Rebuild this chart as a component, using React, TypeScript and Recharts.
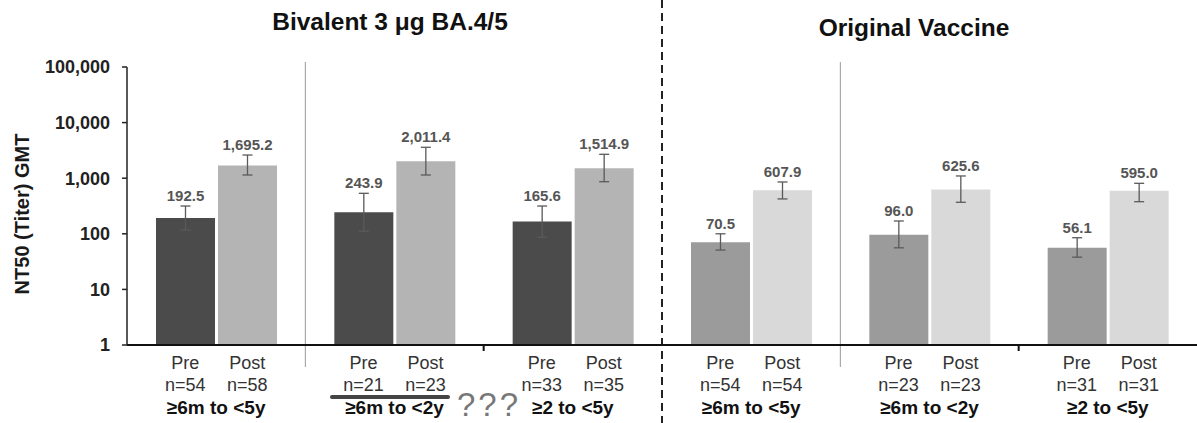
import {
  BarChart,
  Bar,
  XAxis,
  YAxis,
  ErrorBar,
  Cell,
  LabelList,
  ReferenceLine,
  Label,
} from "recharts";

const groups = ["≥6m to <5y", "≥6m to <2y", "≥2 to <5y", "≥6m to <5y", "≥6m to <2y", "≥2 to <5y"];
const vaccines = ["bivalent", "bivalent", "bivalent", "original", "original", "original"];
const preGmt = [192.5, 243.9, 165.6, 70.5, 96.0, 56.1];
const postGmt = [1695.2, 2011.4, 1514.9, 607.9, 625.6, 595.0];
const preLow = [117, 111, 87, 51, 56, 38];
const preHigh = [316, 535, 316, 100, 170, 85];
const postLow = [1142, 1142, 865, 424, 369, 378];
const postHigh = [2612, 3597, 2692, 855, 1097, 809];
const preN = [54, 21, 33, 54, 23, 31];
const postN = [58, 23, 35, 54, 23, 31];
const yTicks = [1, 10, 100, 1000, 10000, 100000];

const colors: Record<string, { pre: string; post: string }> = {
  bivalent: { pre: "#4b4b4b", post: "#b4b4b4" },
  original: { pre: "#9b9b9b", post: "#d9d9d9" },
};

const FONT = '"Liberation Sans", Arial, sans-serif';
const BAR_SIZE = 59;
const BAR_GAP = 3;

const data = groups.map((g, i) => ({
  key: `c${i}`,
  group: g,
  pre: preGmt[i],
  post: postGmt[i],
  preErr: [preGmt[i] - preLow[i], preHigh[i] - preGmt[i]],
  postErr: [postGmt[i] - postLow[i], postHigh[i] - postGmt[i]],
}));

const fmtValue = (v: number) =>
  v.toLocaleString("en-US", { minimumFractionDigits: 1, maximumFractionDigits: 1 });

// label sits just above the top of the error bar (bar height spans log10(value) decades)
const valueLabel = (values: number[], highs: number[]) => (props: any) => {
  const vb = props.viewBox ?? props;
  const x = vb.x ?? props.x;
  const y = vb.y ?? props.y;
  const width = vb.width ?? props.width;
  const height = vb.height ?? props.height;
  let i = props.index;
  if (i === undefined || values[i] === undefined) i = values.indexOf(Number(props.value));
  const v = values[i];
  const perDecade = height / Math.log10(v);
  const errTop = y - perDecade * Math.log10(highs[i] / v);
  return (
    <text
      x={x + width / 2}
      y={errTop - 5}
      textAnchor="middle"
      fontFamily={FONT}
      fontSize={15}
      fontWeight="bold"
      fill="#555"
    >
      {fmtValue(v)}
    </text>
  );
};

const GroupTick = (props: any) => {
  const { x, y, payload } = props;
  const i = props.index ?? payload.index;
  const off = (BAR_SIZE + BAR_GAP) / 2;
  return (
    <g fontFamily={FONT}>
      <text x={x - off} y={y + 24} textAnchor="middle" fontSize={18} fill="#333">Pre</text>
      <text x={x + off} y={y + 24} textAnchor="middle" fontSize={18} fill="#333">Post</text>
      <text x={x - off} y={y + 46} textAnchor="middle" fontSize={18} fill="#333">n={preN[i]}</text>
      <text x={x + off} y={y + 46} textAnchor="middle" fontSize={18} fill="#333">n={postN[i]}</text>
      <text x={x} y={y + 69} textAnchor="middle" fontSize={19} fontWeight="bold" fill="#111">
        {groups[i]}
      </text>
    </g>
  );
};

const YLabel = (props: any) => {
  const vb = props.viewBox;
  const cx = vb.x + 22;
  const cy = vb.y + vb.height / 2 + 8;
  return (
    <text
      x={cx}
      y={cy}
      transform={`rotate(-90 ${cx} ${cy})`}
      textAnchor="middle"
      dominantBaseline="central"
      fontFamily={FONT}
      fontSize={20}
      fontWeight="bold"
      fill="#1a1a1a"
    >
      NT50 (Titer) GMT
    </text>
  );
};

const top = (p: any) => Math.min(p.y1, p.y2);
const bottom = (p: any) => Math.max(p.y1, p.y2);

const thinDivider = (p: any) => (
  <line x1={p.x1} x2={p.x2} y1={top(p) - 5} y2={bottom(p) + 22} stroke="#999" strokeWidth={1} />
);
const dashedDivider = (p: any) => (
  <line x1={p.x1} x2={p.x2} y1={0} y2={423} stroke="#222" strokeWidth={2} strokeDasharray="8 5" />
);
const axisTick = (p: any) => (
  <line x1={p.x1} x2={p.x2} y1={bottom(p)} y2={bottom(p) + 6} stroke="#111" strokeWidth={2} />
);

const titleStyle = {
  position: "absolute" as const,
  textAlign: "center" as const,
  fontFamily: FONT,
  fontSize: 24.5,
  fontWeight: "bold" as const,
  lineHeight: "24px",
  color: "#111",
};

export default function App() {
  return (
    <div style={{ position: "relative", width: 1197, height: 423, background: "#fff", overflow: "hidden" }}>
      <style>{"body{margin:0}"}</style>
      <div style={{ ...titleStyle, left: 0, top: 10, width: 780 }}>Bivalent 3 μg BA.4/5</div>
      <div style={{ ...titleStyle, left: 714, top: 16, width: 400 }}>Original Vaccine</div>
      <div style={{ position: "absolute", left: 330, top: 395, width: 120, height: 4, background: "#444", borderRadius: 2 }} />
      <div
        style={{
          position: "absolute", left: 457, top: 390, fontFamily: FONT, fontSize: 33,
          lineHeight: "30px", color: "#777", letterSpacing: 3,
        }}
      >
        ???
      </div>
      <BarChart
        width={1197}
        height={423}
        data={data}
        margin={{ top: 67, right: 0, bottom: 0, left: 0 }}
        barSize={BAR_SIZE}
        barGap={BAR_GAP}
        style={{ position: "absolute", left: 0, top: 0 }}
      >
        <XAxis
          xAxisId="cat"
          dataKey="key"
          height={78}
          axisLine={{ stroke: "#111", strokeWidth: 2 }}
          tickLine={false}
          tickSize={0}
          tickMargin={0}
          interval={0}
          tick={<GroupTick />}
        />
        <YAxis
          scale="log"
          domain={[1, 100000]}
          ticks={yTicks}
          allowDataOverflow
          width={127}
          axisLine={{ stroke: "#222", strokeWidth: 1.5 }}
          tickLine={{ stroke: "#222", strokeWidth: 1.5 }}
          tickSize={5}
          tickMargin={12}
          tick={{ fontFamily: FONT, fontSize: 18, fontWeight: "bold", fill: "#222" }}
          tickFormatter={(v: number) => v.toLocaleString("en-US")}
        >
          <Label content={<YLabel />} />
        </YAxis>
        <ReferenceLine xAxisId="cat" x="c1" position="start" shape={thinDivider} />
        <ReferenceLine xAxisId="cat" x="c2" position="start" shape={axisTick} />
        <ReferenceLine xAxisId="cat" x="c3" position="start" shape={dashedDivider} />
        <ReferenceLine xAxisId="cat" x="c4" position="start" shape={thinDivider} />
        <ReferenceLine xAxisId="cat" x="c5" position="start" shape={axisTick} />
        <Bar xAxisId="cat" dataKey="pre" isAnimationActive={false}>
          {data.map((d, i) => (
            <Cell key={d.key} fill={colors[vaccines[i]].pre} />
          ))}
          <ErrorBar dataKey="preErr" direction="y" width={5} stroke="#5a5a5a" strokeWidth={1.3} />
          <LabelList dataKey="pre" content={valueLabel(preGmt, preHigh)} />
        </Bar>
        <Bar xAxisId="cat" dataKey="post" isAnimationActive={false}>
          {data.map((d, i) => (
            <Cell key={d.key} fill={colors[vaccines[i]].post} />
          ))}
          <ErrorBar dataKey="postErr" direction="y" width={5} stroke="#5a5a5a" strokeWidth={1.3} />
          <LabelList dataKey="post" content={valueLabel(postGmt, postHigh)} />
        </Bar>
      </BarChart>
    </div>
  );
}
